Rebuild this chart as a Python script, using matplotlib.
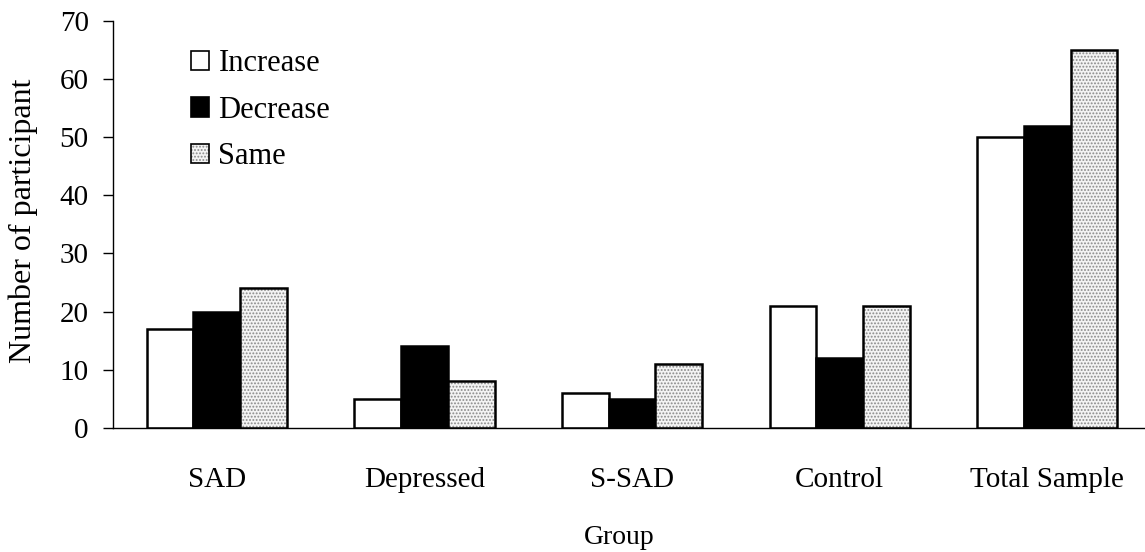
import matplotlib.pyplot as plt
import numpy as np
from matplotlib.patches import Patch

plt.rcParams['font.family'] = ['Liberation Serif', 'DejaVu Serif']
plt.rcParams['hatch.linewidth'] = 0.9

groups = ['SAD', 'Depressed', 'S-SAD', 'Control', 'Total Sample']
increase = [17, 5, 6, 21, 50]
decrease = [20, 14, 5, 12, 52]
same = [24, 8, 11, 21, 65]

fig = plt.figure(figsize=(11.45, 5.52), dpi=100)
ax = fig.add_axes([113 / 1145, 1 - 427.7 / 552, 1 - 113 / 1145, (427.7 - 21) / 552])

x = np.arange(len(groups))
w = 0.225
lw = 1.8

ax.bar(x - w, increase, w, facecolor='white', edgecolor='black', linewidth=lw, zorder=2)
ax.bar(x, decrease, w, facecolor='black', edgecolor='black', linewidth=lw, zorder=2)
# dotted fill first, black outline on top
ax.bar(x + w, same, w, facecolor='#f4f4f4', edgecolor='#8a8a8a', hatch='.....', linewidth=0, zorder=2)
ax.bar(x + w, same, w, facecolor='none', edgecolor='black', linewidth=lw, zorder=3)

ax.set_xlim(-0.5, 4.47)
ax.set_ylim(0, 70)
ax.set_yticks(range(0, 71, 10))
ax.set_xticks(x)
ax.set_xticklabels(groups)
ax.tick_params(axis='x', length=0, pad=28.5, labelsize=21)
ax.tick_params(axis='y', length=7.5, width=1, pad=10, labelsize=21)
ax.spines['top'].set_visible(False)
ax.spines['right'].set_visible(False)
ax.spines['left'].set_linewidth(1)
ax.spines['bottom'].set_linewidth(1)

ax.set_xlabel('Group', fontsize=20)
ax.xaxis.set_label_coords(0.491, -0.24)
ax.set_ylabel('Number of participant', fontsize=23)
ax.yaxis.set_label_coords(-0.073, 0.51)

h_inc = Patch(facecolor='white', edgecolor='black', linewidth=1.2)
h_dec = Patch(facecolor='black', edgecolor='black', linewidth=1.2)
h_same = (Patch(facecolor='#f4f4f4', edgecolor='#8a8a8a', hatch='.....', linewidth=0),
          Patch(facecolor='none', edgecolor='black', linewidth=1.2))
ax.legend([h_inc, h_dec, h_same], ['Increase', 'Decrease', 'Same'],
          loc='upper left', bbox_to_anchor=(191 / 1145, 1 - 49 / 552),
          bbox_transform=fig.transFigure, frameon=False, fontsize=22,
          handlelength=0.6, handleheight=0.6, handletextpad=0.3,
          labelspacing=0.58, borderpad=0, borderaxespad=0)

fig.savefig('out.png', dpi=100)
